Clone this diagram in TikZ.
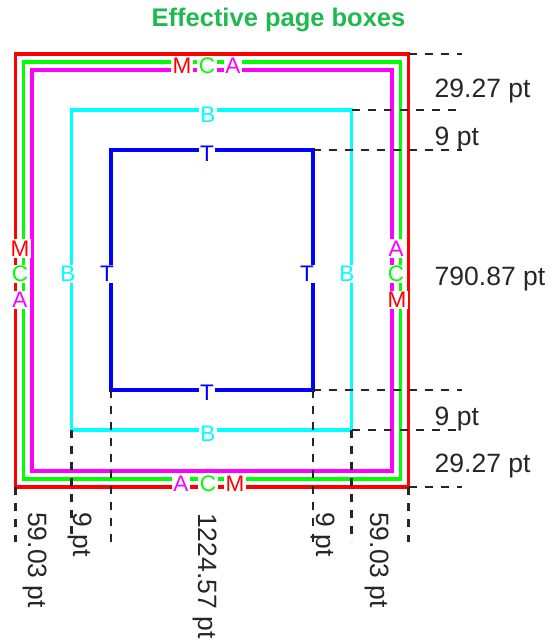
\documentclass[tikz,border=0pt]{standalone}
\usepackage{fontspec}
\setmainfont{Liberation Sans}

\definecolor{titlegreen}{RGB}{32,185,80}
\definecolor{dimgray}{RGB}{38,38,38}
\definecolor{pred}{RGB}{255,0,0}
\definecolor{pgreen}{RGB}{0,255,0}
\definecolor{pmagenta}{RGB}{255,0,255}
\definecolor{pcyan}{RGB}{0,255,255}
\definecolor{pblue}{RGB}{0,0,255}

\begin{document}
\begin{tikzpicture}[x=1pt,y=-1pt,
  pbox/.style={draw,line width=3.1pt,inner sep=0pt,outer sep=0pt},
  lbl/.style={fill=white,inner sep=1.5pt,font=\fontsize{22.5}{26}\selectfont},
  dimline/.style={dimgray,line width=2.6pt,dash pattern=on 8pt off 8pt},
  dimtxt/.style={dimgray,inner sep=0pt,anchor=base west,font=\fontsize{26.5}{30}\selectfont}]
\useasboundingbox (0,0) rectangle (557,643);

\node[anchor=base,text=titlegreen,font=\bfseries\fontsize{25.5}{30}\selectfont] (title) at (278.5,26.7) {Effective page boxes};

% the five boxes
\node[pbox,draw=pred,minimum width=393.5pt,minimum height=433pt] (media) at (212,270.5) {};
\node[pbox,draw=pgreen,minimum width=376.5pt,minimum height=417pt] (crop) at (212,270.5) {};
\node[pbox,draw=pmagenta,minimum width=360pt,minimum height=401pt] (art) at (212,270.5) {};
\node[pbox,draw=pcyan,minimum width=280pt,minimum height=320pt] (bleed) at (211.5,270) {};
\node[pbox,draw=pblue,minimum width=202pt,minimum height=240pt] (trim) at (212,270) {};

% letters on the edges
\node[lbl,text=pred] (mtop) at (182,65.5) {M};
\node[lbl,text=pgreen] (ctop) at (207,65.5) {C};
\node[lbl,text=pmagenta] (atop) at (233,65.5) {A};
\node[lbl,text=pmagenta] (abot) at (181,484) {A};
\node[lbl,text=pgreen] (cbot) at (208,484) {C};
\node[lbl,text=pred] (mbot) at (235,484) {M};
\node[lbl,text=pred] (mleft) at (20,248.5) {M};
\node[lbl,text=pgreen] (cleft) at (20,274) {C};
\node[lbl,text=pmagenta] (aleft) at (20,300) {A};
\node[lbl,text=pmagenta] (aright) at (396,248.5) {A};
\node[lbl,text=pgreen] (cright) at (396,274) {C};
\node[lbl,text=pred] (mright) at (397,300) {M};
\node[lbl,text=pcyan] (btop) at (208,115) {B};
\node[lbl,text=pcyan] (bbot) at (208,434) {B};
\node[lbl,text=pcyan] (bleft) at (68,274) {B};
\node[lbl,text=pcyan] (bright) at (347,274) {B};
\node[lbl,text=pblue] (ttop) at (207,154) {T};
\node[lbl,text=pblue] (tbot) at (207,393) {T};
\node[lbl,text=pblue] (tleft) at (107,274) {T};
\node[lbl,text=pblue] (tright) at (307,274) {T};

% dimension lines
\coordinate (xend) at (462,0);
\coordinate (yend) at (0,542);
\draw[dimline] (media.north east) -- (media.north east -| xend);
\draw[dimline] (bleed.north east) -- (bleed.north east -| xend);
\draw[dimline] (trim.north east) -- (trim.north east -| xend);
\draw[dimline] (trim.south east) -- (trim.south east -| xend);
\draw[dimline] (bleed.south east) -- (bleed.south east -| xend);
\draw[dimline] (media.south east) -- (media.south east -| xend);
\draw[dimline] (media.south west) -- (media.south west |- yend);
\draw[dimline] (bleed.south west) -- (bleed.south west |- yend);
\draw[dimline] (trim.south west) -- (trim.south west |- yend);
\draw[dimline] (trim.south east) -- (trim.south east |- yend);
\draw[dimline] (bleed.south east) -- (bleed.south east |- yend);
\draw[dimline] (media.south east) -- (media.south east |- yend);

% dimension texts
\node[dimtxt] (gaptop) at (434.5,97) {29.27 pt};
\node[dimtxt] (bleedtop) at (434.5,145) {9 pt};
\node[dimtxt] (height) at (434.5,285) {790.87 pt};
\node[dimtxt] (bleedbot) at (434.5,425) {9 pt};
\node[dimtxt] (gapbot) at (434.5,472) {29.27 pt};
\node[dimtxt,rotate=-90] (gapleft) at (28,512) {59.03 pt};
\node[dimtxt,rotate=-90] (bleedleft) at (73,512) {9 pt};
\node[dimtxt,rotate=-90] (width) at (198,513) {1224.57 pt};
\node[dimtxt,rotate=-90] (bleedright) at (316,512) {9 pt};
\node[dimtxt,rotate=-90] (gapright) at (370,512) {59.03 pt};
\end{tikzpicture}
\end{document}
